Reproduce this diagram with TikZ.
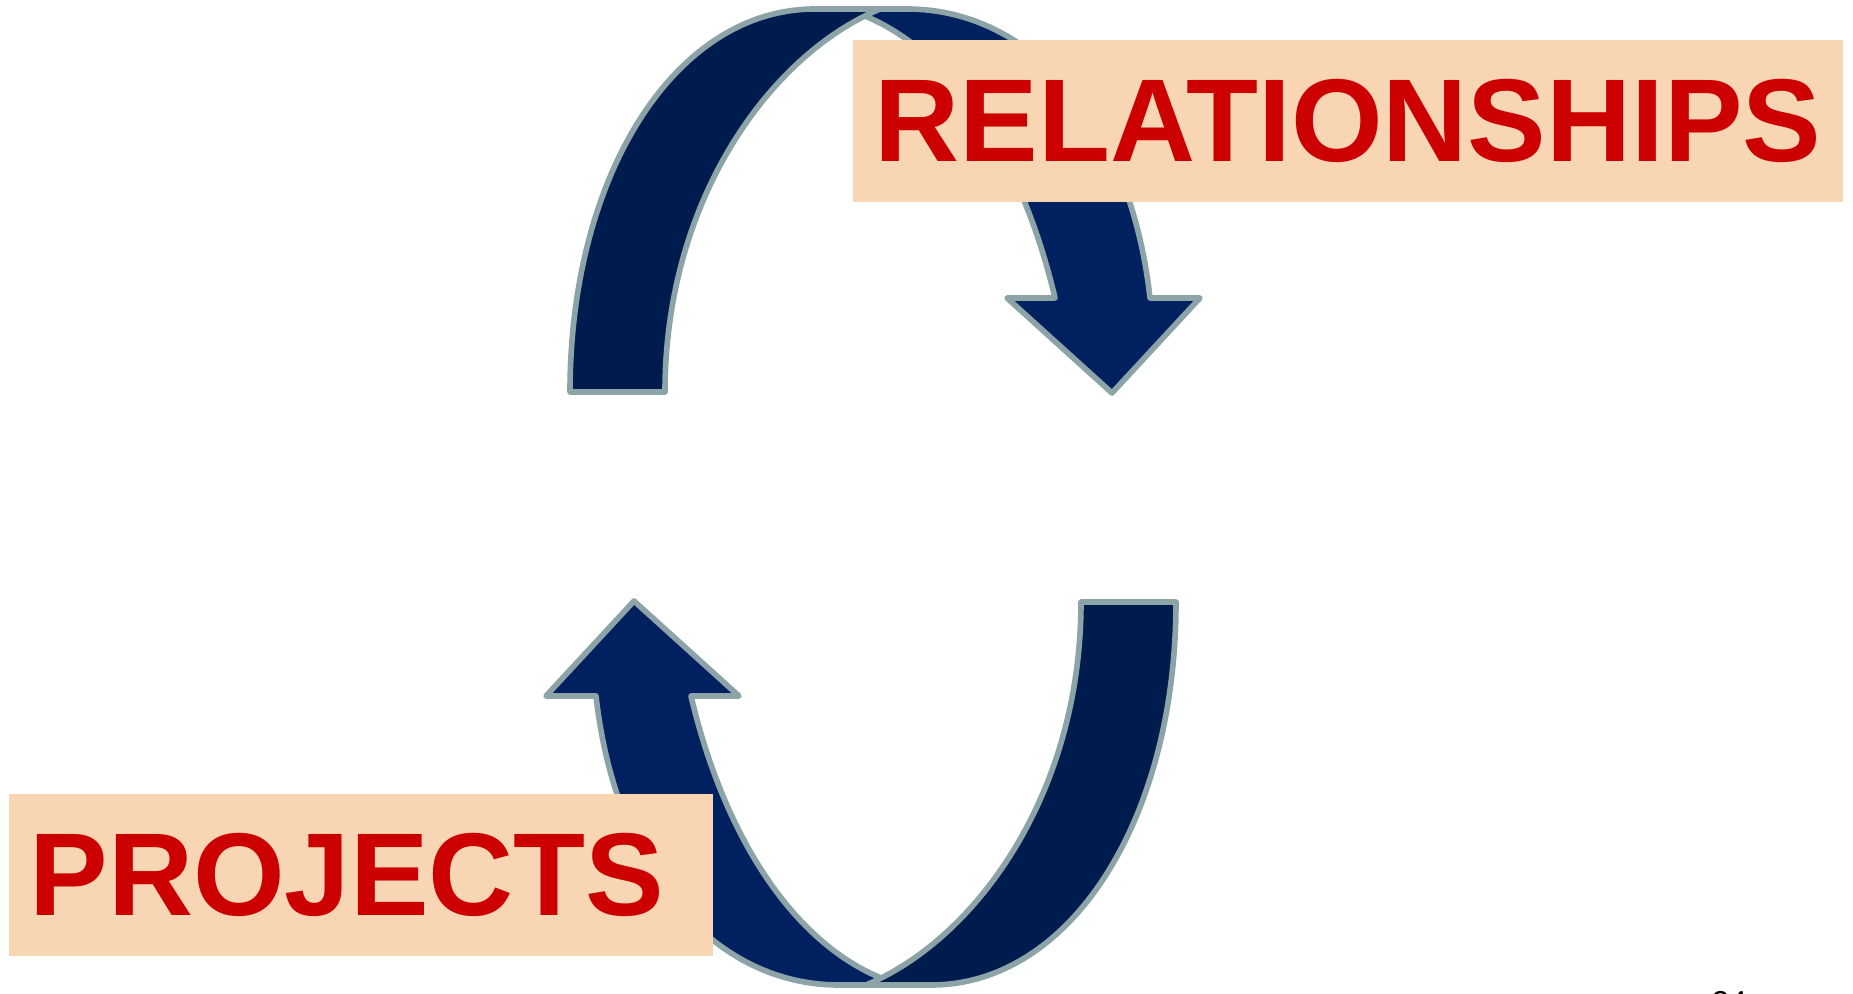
\documentclass[tikz,border=0pt]{standalone}
\usepackage{fontspec}
\setmainfont{Liberation Sans}
\definecolor{navyD}{RGB}{0,27,77}
\definecolor{navyL}{RGB}{0,32,96}
\definecolor{rim}{RGB}{140,164,168}
\definecolor{peach}{RGB}{248,214,180}
\definecolor{tagred}{RGB}{204,0,0}

\begin{document}
\begin{tikzpicture}[x=0.01cm,y=-0.01cm,
    band/.style={draw=rim,line width=1.6pt,line join=round},
    tagbox/.style={fill=peach,inner sep=0pt,minimum height=1.62cm,text=tagred,
                   font=\fontsize{33.5}{40}\selectfont\bfseries}]
  \useasboundingbox (0,0) rectangle (1853,994);
  % the two twisted arrows, lower one is the upper one turned round
  \foreach \ang in {0,180}{
    \begin{scope}[rotate around={\ang:(873,497)}]
      \draw[band,fill=navyL] (845,9) -- (907,9)
        .. controls (1030,9) and (1130,120) .. (1150,298)
        -- (1200,298) -- (1112,393) -- (1007,298) -- (1055,298)
        .. controls (1020,150) and (945,38) .. (845,9) -- cycle;
      \draw[band,fill=navyD] (570,392)
        .. controls (570,175) and (675,9) .. (815,9) -- (880,9)
        .. controls (770,55) and (665,200) .. (665,392) -- cycle;
    \end{scope}
  }
  % labels
  \node[tagbox,minimum width=9.90cm] (relations) at (1348,121) {RELATIONSHIPS};
  \node[tagbox,minimum width=7.04cm] (projects) at (361,875) {PROJECTS\kern0.28cm};
  \node[anchor=base west,inner sep=0pt,font=\fontsize{9}{10}\selectfont] (pageno) at (1711,1013) {24};
\end{tikzpicture}
\end{document}
